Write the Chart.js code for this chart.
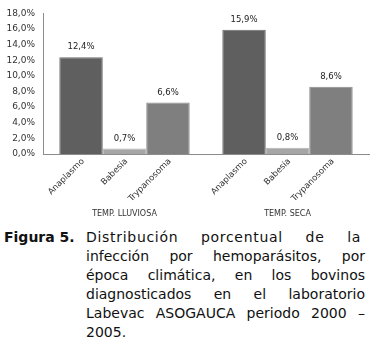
<!doctype html>
<html lang="es">
  <head>
    <meta charset="utf-8" />
    <title>Figura 5 - hemoparásitos por época climática</title>
    <script src="https://cdn.jsdelivr.net/npm/chart.js@4.4.1/dist/chart.umd.min.js"></script>
    <style>
      html,
      body {
        margin: 0;
        padding: 0;
        width: 375px;
        height: 345px;
        overflow: hidden;
        background: #fff;
      }
      #chartBox {
        position: relative;
        width: 375px;
        height: 228px;
      }
      #caption {
        display: flex;
        font-family: "DejaVu Sans", Verdana, sans-serif;
        font-size: 14px;
        line-height: 19px;
        color: #111;
        padding-left: 4px;
      }
      #caption .fig {
        font-weight: bold;
        width: 82px;
        flex: none;
      }
      #caption .body {
        width: 279px;
      }
      #caption .line {
        text-align: justify;
        text-align-last: justify;
        white-space: nowrap;
      }
      #caption .line.first {
        letter-spacing: 0.7px;
        padding-right: 4px;
      }
      #caption .line.last {
        text-align-last: left;
      }
    </style>
  </head>
  <body>
    <div id="chartBox"><canvas id="chart"></canvas></div>
    <div id="caption">
      <div class="fig">Figura 5.</div>
      <div class="body">
        <div class="line first">Distribución porcentual de la</div>
        <div class="line">infección por hemoparásitos, por</div>
        <div class="line">época climática, en los bovinos</div>
        <div class="line">diagnosticados en el laboratorio</div>
        <div class="line">Labevac ASOGAUCA periodo 2000 –</div>
        <div class="line last">2005.</div>
      </div>
    </div>

    <script>
      // seasons (x categories)
      const seasons = ["TEMP. LLUVIOSA", "TEMP. SECA"];
      // parasites (one series each)
      const parasites = ["Anaplasmo", "Babesia", "Trypanosoma"];
      // percentages
      const anaplasmo = [12.4, 15.9];
      const babesia = [0.7, 0.8];
      const trypanosoma = [6.6, 8.6];
      const yTicks = [0, 2, 4, 6, 8, 10, 12, 14, 16, 18];

      const seriesValues = [anaplasmo, babesia, trypanosoma];
      const barColors = ["#5f5f5f", "#a6a6a6", "#7f7f7f"];
      const barEdges = ["#6c6c6c", "#b4b4b4", "#8c8c8c"];

      const fmt = (v) => v.toFixed(1).replace(".", ",") + "%";
      const textFont = '"DejaVu Sans", Verdana, sans-serif';

      // value labels above bars and rotated series names under each bar
      const barLabels = {
        id: "barLabels",
        afterDatasetsDraw(chart) {
          const ctx = chart.ctx;
          const base = chart.scales.y.getPixelForValue(0);
          chart.data.datasets.forEach((ds, i) => {
            const meta = chart.getDatasetMeta(i);
            meta.data.forEach((bar, j) => {
              ctx.save();
              ctx.fillStyle = "#222";
              ctx.font = "8.5px " + textFont;
              ctx.textAlign = "center";
              ctx.textBaseline = "middle";
              ctx.fillText(fmt(ds.data[j]), bar.x, bar.y - 10);
              ctx.restore();

              ctx.save();
              ctx.translate(bar.x + 2, base + 6);
              ctx.rotate(-Math.PI / 4);
              ctx.fillStyle = "#333";
              ctx.font = "8.5px " + textFont;
              ctx.textAlign = "right";
              ctx.textBaseline = "middle";
              ctx.fillText(ds.label, 0, 0);
              ctx.restore();
            });
          });
        }
      };

      new Chart(document.getElementById("chart"), {
        type: "bar",
        data: {
          labels: seasons,
          datasets: parasites.map((name, i) => ({
            label: name,
            data: seriesValues[i],
            backgroundColor: barColors[i],
            borderColor: barEdges[i],
            borderWidth: 1,
            categoryPercentage: 0.8,
            barPercentage: 1.0
          }))
        },
        options: {
          responsive: true,
          maintainAspectRatio: false,
          animation: false,
          layout: { padding: { top: 9, right: 6, left: 0, bottom: 0 } },
          plugins: {
            legend: { display: false },
            tooltip: { enabled: false }
          },
          scales: {
            x: {
              grid: { display: false, drawTicks: false },
              border: { display: true, color: "#8c8c8c", width: 1 },
              ticks: {
                color: "#333",
                font: { family: textFont, size: 8 },
                padding: 55,
                maxRotation: 0
              },
              afterFit(scale) {
                scale.height = 74;
              }
            },
            y: {
              min: 0,
              max: 18,
              grid: { display: false, drawTicks: false },
              border: { display: true, color: "#8c8c8c", width: 1 },
              afterBuildTicks(scale) {
                scale.ticks = yTicks.map((v) => ({ value: v }));
              },
              ticks: {
                color: "#333",
                font: { family: textFont, size: 9 },
                padding: 8,
                callback: (v) => fmt(v)
              },
              afterFit(scale) {
                scale.width = 43;
              }
            }
          }
        },
        plugins: [barLabels]
      });
    </script>
  </body>
</html>
